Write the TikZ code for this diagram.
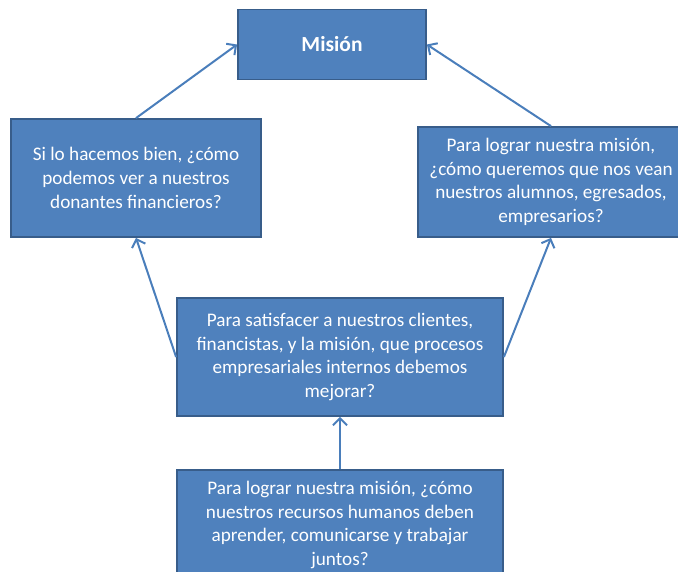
\documentclass[tikz,border=0pt]{standalone}
\usepackage{fontspec}
\setmainfont{Carlito}
\usetikzlibrary{arrows.meta}
\definecolor{boxfill}{HTML}{4F81BD}
\definecolor{boxline}{HTML}{385D8A}
\definecolor{arrowcol}{HTML}{4A7EBB}
\tikzset{
  box/.style={draw=boxline, line width=1.8pt, fill=boxfill, text=white, align=center,
    inner sep=0pt, font=\fontsize{19.2}{23.6}\selectfont},
  conn/.style={draw=arrowcol, line width=2pt, -{Straight Barb[length=7pt,width=14pt,line width=2pt]}}
}
\begin{document}
\begin{tikzpicture}[x=1pt,y=1pt]
\useasboundingbox (0,0) rectangle (678,-571);
\clip (0,0) rectangle (678,-571);
\node[box, minimum width=188pt, minimum height=70pt, font=\fontsize{21.5}{24}\selectfont\bfseries] (mision) at (332,-44.5) {Misión};
\node[box, minimum width=250pt, minimum height=118pt] (fin) at (136,-178) {Si lo hacemos bien, ¿cómo\\podemos ver a nuestros\\donantes financieros?};
\node[box, minimum width=266pt, minimum height=110pt] (cli) at (551,-182) {Para lograr nuestra misión,\\¿cómo queremos que nos vean\\nuestros alumnos, egresados,\\empresarios?};
\node[box, minimum width=326pt, minimum height=118pt] (proc) at (340,-357) {Para satisfacer a nuestros clientes,\\financistas, y la misión, que procesos\\empresariales internos debemos\\mejorar?};
\node[box, minimum width=326pt, minimum height=110pt] (rh) at (340,-525) {Para lograr nuestra misión, ¿cómo\\nuestros recursos humanos deben\\aprender, comunicarse y trabajar\\juntos?};
\draw[conn] (fin.north) -- (mision.west);
\draw[conn] (cli.north) -- (mision.east);
\draw[conn] (proc.west) -- (fin.south);
\draw[conn] (proc.east) -- (cli.south);
\draw[conn] (rh.north) -- (proc.south);
\end{tikzpicture}
\end{document}
